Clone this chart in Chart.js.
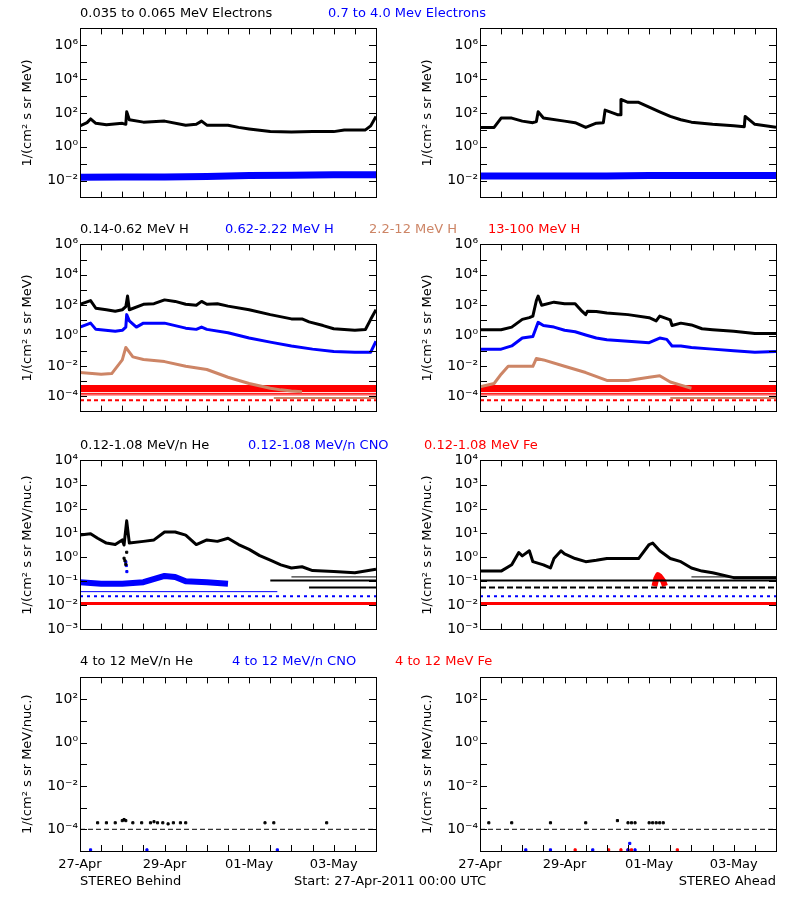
<!DOCTYPE html>
<html><head><meta charset="utf-8">
<script src="https://cdn.jsdelivr.net/npm/chart.js@4"></script>
<style>
body{margin:0;background:#fff;width:800px;height:900px;position:relative;overflow:hidden;font-family:"DejaVu Sans",sans-serif;}
canvas{position:absolute;}
.t{position:absolute;font-size:13px;white-space:nowrap;line-height:14px;}
</style></head><body>
<script>
// ---------- DATA (hours since 27-Apr-2011 00:00 UTC, values as log10 of flux) ----------
const xTickHours=[0,48,96,144];
const xTickLabels=["27-Apr","29-Apr","01-May","03-May"];

// Row 1: electrons
const eLoBehindH=[0,4,6,9,15,24,26,26.5,28,36,48,60,66,69,72,84,90,96,108,120,132,144,150,162,165,168];
const eLoBehindV=[1.24,1.43,1.65,1.39,1.3,1.39,1.33,2.07,1.6,1.46,1.52,1.28,1.33,1.52,1.28,1.28,1.15,1.06,0.9,0.87,0.9,0.9,1.0,1.0,1.24,1.8];
const eHiBehindH=[0,24,48,72,96,120,144,168];
const eHiBehindV=[-1.8,-1.78,-1.78,-1.75,-1.7,-1.68,-1.65,-1.65];
const eLoAheadH=[0,8,12,18,24,30,32,33,36,48,54,60,66,70,71,78,79.5,80,84,90,96,102,108,114,120,132,144,150,150.5,156,168];
const eLoAheadV=[1.15,1.15,1.7,1.7,1.52,1.43,1.5,2.07,1.7,1.52,1.43,1.15,1.4,1.43,2.17,1.9,1.9,2.8,2.63,2.63,2.35,2.07,1.8,1.6,1.46,1.33,1.24,1.19,1.8,1.33,1.15];
const eHiAheadH=[0,24,48,72,96,120,144,168];
const eHiAheadV=[-1.72,-1.72,-1.73,-1.72,-1.7,-1.7,-1.7,-1.7];

// Row 2: protons
const hLoBehindH=[0,6,9,15,20,24,26,27,28,36,42,48,54,60,66,69,72,78,84,96,108,120,126,130,138,144,156,162,165,168];
const hLoBehindV=[2.06,2.3,1.8,1.7,1.6,1.7,1.9,2.6,1.7,2.06,2.1,2.35,2.25,2.06,2.0,2.25,2.06,2.1,1.94,1.7,1.38,1.1,1.1,0.9,0.66,0.45,0.35,0.4,1.07,1.7];
const hMidBehindH=[0,6,9,20,24,26,26.5,28,32,36,48,60,66,69,72,84,96,108,120,132,144,156,165,168];
const hMidBehindV=[0.56,0.82,0.41,0.29,0.35,0.56,1.38,0.97,0.56,0.82,0.82,0.49,0.41,0.56,0.41,0.19,-0.16,-0.43,-0.68,-0.89,-1.05,-1.09,-1.09,-0.37];
const hHiBehindH=[0,12,18,24,26,28,30,36,48,60,72,84,96,108,114,120,126];
const hHiBehindV=[-2.43,-2.54,-2.5,-1.6,-0.78,-1.09,-1.4,-1.57,-1.71,-2.02,-2.23,-2.74,-3.15,-3.46,-3.57,-3.65,-3.7];
const hHiBehindFloorH=[110,168];
const hHiBehindFloorV=[-4.1,-4.1];
const hLoAheadH=[0,12,18,24,28,30,32,33,35,42,48,54,58,60,61,66,72,84,96,100,102,108,109,114,120,126,132,144,156,168];
const hLoAheadV=[0.39,0.39,0.56,1.07,1.18,1.28,2.31,2.6,2.0,2.2,2.1,2.1,1.59,1.38,1.6,1.59,1.48,1.38,1.18,0.97,1.28,1.03,0.66,0.82,0.7,0.45,0.39,0.29,0.14,0.14];
const hMidAheadH=[0,12,18,24,30,32,33,36,42,48,54,60,66,72,84,96,102,106,109,114,120,132,144,156,168];
const hMidAheadV=[-0.89,-0.89,-0.68,-0.16,-0.06,0.56,0.87,0.66,0.56,0.35,0.25,0.04,-0.16,-0.27,-0.37,-0.47,-0.16,-0.25,-0.68,-0.68,-0.78,-0.89,-0.99,-1.09,-1.05];
const hHiAheadH=[0,8,12,16,24,30,32,36,48,60,72,84,96,102,108,114,120];
const hHiAheadV=[-3.36,-3.15,-2.54,-2.02,-2.02,-2.02,-1.5,-1.6,-2.02,-2.43,-2.95,-2.95,-2.74,-2.64,-3.05,-3.26,-3.46];
const hHiAheadFloorH=[108,168];
const hHiAheadFloorV=[-4.1,-4.1];
const hTopBandH=[0,168];
const hTopBandV=[-3.48,-3.48];
const hTopLine1V=[-3.8,-3.8];
const hTopLine2V=[-3.9,-3.9];
const hTopLine3V=[-4.25,-4.25];

// Row 3: low energy ions
const heLoBehindH=[0,6,10,15,20,24,25,26.5,28,36,42,48,54,60,66,72,78,84,90,96,102,108,114,120,126,132,144,156,168];
const heLoBehindV=[0.91,0.97,0.78,0.58,0.52,0.71,0.5,1.5,0.58,0.65,0.71,1.04,1.04,0.91,0.52,0.71,0.65,0.78,0.52,0.32,0.06,-0.13,-0.32,-0.45,-0.4,-0.56,-0.6,-0.65,-0.5];
const heDipBehindH=[25,25.5,26,26.5];
const heDipBehindV=[-0.05,-0.15,-0.3,0.2];
const cnoLoBehindH=[0,12,24,36,48,54,60,72,84];
const cnoLoBehindV=[-1.04,-1.1,-1.1,-1.04,-0.78,-0.82,-1.0,-1.04,-1.1];
const cnoSpikeBehindH=[26,26.3,26.6];
const cnoSpikeBehindV=[-0.2,-0.35,-0.6];
const heLoAheadH=[0,12,18,22,24,28,30,36,40,42,46,48,54,60,66,72,84,90,96,98,102,108,114,120,126,132,144,168];
const heLoAheadV=[-0.58,-0.58,-0.32,0.19,0.05,0.26,-0.19,-0.32,-0.45,-0.06,0.26,0.13,-0.06,-0.19,-0.13,-0.06,-0.06,-0.06,0.52,0.58,0.26,-0.06,-0.19,-0.45,-0.58,-0.65,-0.85,-0.85];
const feLoAheadH=[99,100,101,102,103,104,105];
const feLoAheadV=[-1.2,-0.9,-0.75,-0.8,-0.9,-1.0,-1.2];
const heFloor0V=-0.82, heFloor1V=-0.97, heFloor2V=-1.26, cnoFloor1V=-1.43, cnoFloor2V=-1.62, feFloorV=-1.92;

// Row 4: high energy ions
const heHiBehindH=[10,15,20,24,25,26,30,35,40,42,44,47,50,53,57,60,105,110,140];
const heHiBehindV=[-3.7,-3.7,-3.7,-3.6,-3.55,-3.6,-3.7,-3.7,-3.7,-3.65,-3.7,-3.7,-3.75,-3.7,-3.7,-3.7,-3.7,-3.7,-3.7];
const cnoHiBehindH=[6,38,112];
const cnoHiBehindV=[-4.95,-4.95,-4.95];
const heHiAheadH=[5,18,40,60,78,84,86,88,96,98,100,102,104];
const heHiAheadV=[-3.7,-3.7,-3.7,-3.7,-3.6,-3.7,-3.7,-3.7,-3.7,-3.7,-3.7,-3.7,-3.7];
const cnoHiAheadH=[26,40,64,84,88,85];
const cnoHiAheadV=[-4.95,-4.95,-4.95,-4.95,-4.95,-4.65];
const feHiAheadH=[54,73,80,84,86,112];
const feHiAheadV=[-4.95,-4.95,-4.95,-4.95,-4.95,-4.95];
const hiFloorV=-4;

// ---------- helpers ----------
const BLACK='#000000',BLUE='#0000ff',BROWN='#cd8566',RED='#ff0000';
const pts=(h,v)=>h.map((x,i)=>({x:x,y:Math.pow(10,v[i])}));
const flat=(v,a=0,b=168)=>[{x:a,y:Math.pow(10,v)},{x:b,y:Math.pow(10,v)}];
function line(data,color,w,order,dash){return {data,borderColor:color,backgroundColor:color,borderWidth:w,pointRadius:0,showLine:true,order:order,borderDash:dash||[],borderJoinStyle:'round',borderCapStyle:'butt'};}
function dots(data,color,r,order){return {data,borderColor:color,backgroundColor:color,pointRadius:r,pointStyle:'rect',showLine:false,order:order};}
const SUP={'0':'⁰','1':'¹','2':'²','3':'³','4':'⁴','5':'⁵','6':'⁶','7':'⁷','8':'⁸','9':'⁹','-':'⁻'};
const sup=n=>String(n).split('').map(c=>SUP[c]).join('');

const framePlugin={id:'frame',afterDraw(c){
  const a=c.chartArea,ctx=c.ctx,xs=c.scales.x,ys=c.scales.y;
  ctx.save();ctx.strokeStyle='#000';ctx.lineWidth=1;
  ctx.strokeRect(Math.round(a.left)+0.5,Math.round(a.top)+0.5,Math.round(a.right-a.left),Math.round(a.bottom-a.top));
  ctx.beginPath();
  for(let h=0;h<=168;h+=12){const px=Math.round(xs.getPixelForValue(h))+0.5;
    ctx.moveTo(px,a.bottom);ctx.lineTo(px,a.bottom-6);ctx.moveTo(px,a.top);ctx.lineTo(px,a.top+6);}
  for(const t of ys.ticks){const py=Math.round(ys.getPixelForValue(t.value))+0.5;
    if(py<=a.top+1||py>=a.bottom-1)continue;
    ctx.moveTo(a.left,py);ctx.lineTo(a.left+7,py);ctx.moveTo(a.right,py);ctx.lineTo(a.right-7,py);}
  ctx.stroke();ctx.restore();}};

function makePanel(left,top,h,minE,maxE,step,ytitle,datasets,bottom){
  const cv=document.createElement('canvas');
  const ch=h+5+(bottom?28:5);
  cv.width=400;cv.height=ch;cv.style.left=left+'px';cv.style.top=(top-5)+'px';
  cv.style.width='400px';cv.style.height=ch+'px';
  document.body.appendChild(cv);
  new Chart(cv,{type:'scatter',data:{datasets},plugins:[framePlugin],
    options:{responsive:false,animation:false,devicePixelRatio:1,
      layout:{padding:{top:5,right:24,left:0,bottom:0}},
      plugins:{legend:{display:false},tooltip:{enabled:false}},
      scales:{
        x:{type:'linear',min:0,max:168,grid:{display:false,drawTicks:false},border:{display:false},
          afterBuildTicks:s=>{s.ticks=xTickHours.map(v=>({value:v}));},
          ticks:{display:!!bottom,autoSkip:false,maxRotation:0,padding:6,color:'#000',font:{family:'DejaVu Sans',size:13},
            callback:v=>xTickLabels[xTickHours.indexOf(v)]},
          afterFit:s=>{s.height=bottom?28:5;}},
        y:{type:'logarithmic',min:Math.pow(10,minE),max:Math.pow(10,maxE),grid:{display:false,drawTicks:false},border:{display:false},
          afterBuildTicks:s=>{const t=[];for(let e=minE;e<=maxE;e++)t.push({value:Math.pow(10,e)});s.ticks=t;},
          ticks:{autoSkip:false,padding:2,color:'#000',font:{family:'DejaVu Sans',size:14},
            callback:v=>{const e=Math.round(Math.log10(v));return (step===1||e%2===0)?'10'+sup(e):'';}},
          title:{display:true,text:ytitle,color:'#000',font:{family:'DejaVu Sans',size:13},padding:{top:20,bottom:0}},
          afterFit:s=>{s.width=80;}}
      }}});
}

function label(x,y,parts,right){
  const d=document.createElement('div');d.className='t';
  d.style.top=(y-7)+'px';
  if(right){d.style.right=(800-x)+'px';}else d.style.left=x+'px';
  d.innerHTML=parts;document.body.appendChild(d);}

const T1='1/(cm² s sr MeV)',T2='1/(cm² s sr MeV/nuc.)';
const LX=0,RX=400;

// Row 1
makePanel(LX,23,180,-3,7,2,T1,[line(pts(eLoBehindH,eLoBehindV),BLACK,3,1),line(pts(eHiBehindH,eHiBehindV),BLUE,7,2)]);
makePanel(RX,23,180,-3,7,2,T1,[line(pts(eLoAheadH,eLoAheadV),BLACK,3,1),line(pts(eHiAheadH,eHiAheadV),BLUE,7,2)]);
// Row 2
function row2(lo,mid,hi,floor){return [line(lo,BLACK,3,1),line(mid,BLUE,3,2),line(hi,BROWN,3,3),line(floor,BROWN,2,3),
  line(pts(hTopBandH,hTopBandV),RED,7,5),line(pts(hTopBandH,hTopLine1V),RED,1,5),line(pts(hTopBandH,hTopLine2V),RED,1,5),line(pts(hTopBandH,hTopLine3V),RED,2,5,[4,3])];}
makePanel(LX,239,178,-5,6,2,T1,row2(pts(hLoBehindH,hLoBehindV),pts(hMidBehindH,hMidBehindV),pts(hHiBehindH,hHiBehindV),pts(hHiBehindFloorH,hHiBehindFloorV)));
makePanel(RX,239,178,-5,6,2,T1,row2(pts(hLoAheadH,hLoAheadV),pts(hMidAheadH,hMidAheadV),pts(hHiAheadH,hHiAheadV),pts(hHiAheadFloorH,hHiAheadFloorV)));
// Row 3
makePanel(LX,455,180,-3,4,1,T2,[line(pts(heLoBehindH,heLoBehindV),BLACK,3,1),dots(pts(heDipBehindH,heDipBehindV),BLACK,1.5,1),
  line(flat(heFloor0V,120,168),BLACK,1,1),line(flat(heFloor1V,108,168),BLACK,2,1),line(flat(heFloor2V,130,168),BLACK,2,1),
  line(pts(cnoLoBehindH,cnoLoBehindV),BLUE,6,2),dots(pts(cnoSpikeBehindH,cnoSpikeBehindV),BLUE,1.5,2),
  line(flat(cnoFloor1V,0,112),BLUE,1,2),line(flat(cnoFloor2V),BLUE,2,2,[3,4]),
  line(flat(feFloorV),RED,3,3)]);
makePanel(RX,455,180,-3,4,1,T2,[line(pts(heLoAheadH,heLoAheadV),BLACK,3,1),
  line(flat(heFloor0V,120,168),BLACK,1,1),line(flat(heFloor1V),BLACK,2,1),line(flat(heFloor2V),BLACK,2,1,[6,3]),
  line(pts(feLoAheadH,feLoAheadV),RED,6,2),line(flat(cnoFloor2V),BLUE,2,2,[3,4]),
  line(flat(feFloorV),RED,3,3)]);
// Row 4
makePanel(LX,672,179,-5,3,2,T2,[dots(pts(heHiBehindH,heHiBehindV),BLACK,1.5,1),dots(pts(cnoHiBehindH,cnoHiBehindV),BLUE,1.5,2),
  line(flat(hiFloorV),BLACK,1,3,[5,3])],true);
makePanel(RX,672,179,-5,3,2,T2,[dots(pts(heHiAheadH,heHiAheadV),BLACK,1.5,1),dots(pts(cnoHiAheadH,cnoHiAheadV),BLUE,1.5,2),
  dots(pts(feHiAheadH,feHiAheadV),RED,1.5,2),line(flat(hiFloorV),BLACK,1,3,[5,3])],true);

// titles
label(80,13,'0.035 to 0.065 MeV Electrons');
label(328,13,'<span style="color:#00f">0.7 to 4.0 Mev Electrons</span>');
label(80,229,'0.14-0.62 MeV H');
label(225,229,'<span style="color:#00f">0.62-2.22 MeV H</span>');
label(369,229,'<span style="color:#cd8566">2.2-12 MeV H</span>');
label(488,229,'<span style="color:#f00">13-100 MeV H</span>');
label(80,445,'0.12-1.08 MeV/n He');
label(248,445,'<span style="color:#00f">0.12-1.08 MeV/n CNO</span>');
label(424,445,'<span style="color:#f00">0.12-1.08 MeV Fe</span>');
label(80,661,'4 to 12 MeV/n He');
label(232,661,'<span style="color:#00f">4 to 12 MeV/n CNO</span>');
label(395,661,'<span style="color:#f00">4 to 12 MeV Fe</span>');
label(80,881,'STEREO Behind');
label(294,881,'Start: 27-Apr-2011 00:00 UTC');
label(776,881,'STEREO Ahead',true);
</script>
</body></html>
